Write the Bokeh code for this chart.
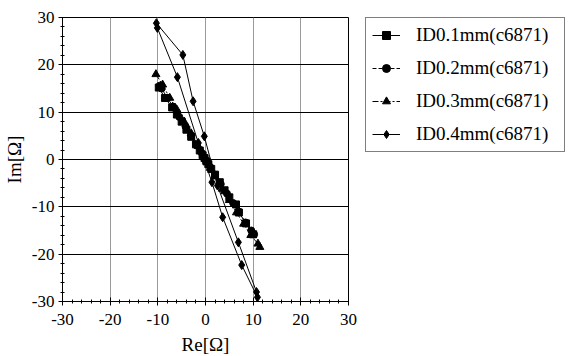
from bokeh.plotting import figure
from bokeh.models import Legend, LegendItem, Range1d, FixedTicker, PrintfTickFormatter
from bokeh.embed import file_html
from bokeh.resources import INLINE

NAN = float("nan")

# Data (Re[Ω], Im[Ω])
re_01 = [-9.8, -8.5, -7.0, -6.0, -5.0, -4.0, -3.0, -2.0, -1.2, -0.6, -0.2, 0.2, 0.6, 1.2, 2.0, 3.0, 4.0, 5.0, 6.4, 7.0, 8.5, 10.0]
im_01 = [15.2, 13.0, 11.0, 9.5, 8.0, 6.3, 4.8, 3.2, 1.9, 0.9, 0.3, -0.4, -1.0, -2.0, -3.2, -4.8, -6.5, -8.0, -9.5, -11.2, -13.5, -15.8]

re_02 = [-9.6, -9.2, -8.0, -6.8, -5.5, -4.2, -3.0, -1.8, -0.8, -0.2, 0.3, 1.0, 2.0, 3.2, 4.5, 5.8, 7.0, 8.4, 9.6, 10.2]
im_02 = [15.6, 15.0, 13.0, 11.2, 9.0, 7.0, 5.0, 3.0, 1.4, 0.4, -0.5, -1.6, -3.2, -5.2, -7.2, -9.2, -11.0, -13.3, -15.0, -15.8]

re_03 = [-10.4, -9.0, -7.5, -6.0, -4.5, -3.0, -1.5, -0.5, 0.2, 1.0, 2.0, 3.5, 5.0, 6.5, 8.0, 9.5, 11.0, 11.4]
im_03 = [18.0, 15.8, 13.0, 10.5, 8.0, 5.5, 2.8, 1.0, -0.3, -1.8, -3.6, -6.2, -8.6, -11.2, -13.6, -16.0, -17.8, -18.5]

re_04 = [-10.3, -4.75, -2.6, -0.25, 2.5, 6.9, 10.7, 10.9, 7.6, 3.6, 1.35, -1.5, -5.9, -10.1]
im_04 = [28.8, 22.1, 12.3, 4.9, -5.5, -17.5, -28.0, -29.1, -22.3, -12.2, -4.8, 3.5, 17.4, 27.8]

labels = ["ID0.1mm(c6871)", "ID0.2mm(c6871)", "ID0.3mm(c6871)", "ID0.4mm(c6871)"]
ticks = [-30, -20, -10, 0, 10, 20, 30]

FONT = "Liberation Serif"

p = figure(width=569, height=356, output_backend="svg", toolbar_location=None,
           x_range=Range1d(-30, 30), y_range=Range1d(-30, 30),
           frame_width=286, frame_height=284,
           min_border_left=61, min_border_top=17, min_border_bottom=55, min_border_right=2)
p.background_fill_color = "white"
p.border_fill_color = "white"
p.outline_line_color = "black"
p.outline_line_width = 1

for ax in (p.xaxis, p.yaxis):
    ax.ticker = FixedTicker(ticks=ticks, minor_ticks=list(range(-30, 31, 2)))
    ax.formatter = PrintfTickFormatter(format="%d")
    ax.major_label_text_font = FONT
    ax.major_label_text_font_size = "17px"
    ax.major_label_text_color = "black"
    ax.axis_label_text_font = FONT
    ax.axis_label_text_font_size = "19px"
    ax.axis_label_text_font_style = "normal"
    ax.axis_label_text_color = "black"
    ax.axis_line_color = "black"
    ax.major_tick_in = 4
    ax.major_tick_out = 4
    ax.minor_tick_in = 2
    ax.minor_tick_out = 2
    ax.major_tick_line_color = "black"
    ax.minor_tick_line_color = "black"

p.xaxis.axis_label = "Re[Ω]"
p.yaxis.axis_label = "Im[Ω]"
p.xaxis.major_label_standoff = 8
p.yaxis.major_label_standoff = 4
p.xaxis.axis_label_standoff = 6
p.yaxis.axis_label_standoff = 4

p.xgrid.grid_line_color = "#9a9a9a"
p.xgrid.grid_line_width = 1
p.ygrid.grid_line_color = "black"
p.ygrid.grid_line_width = 1

series = [
    (re_01, im_01, "square", 7, 7, "solid"),
    (re_02, im_02, "circle", 7, 7, "4 2"),
    (re_03, im_03, "triangle", 8, 7, "6 2 2 2"),
    (re_04, im_04, "diamond", 9, 8, "solid"),
]

items = []
for (xs, ys, marker, size, lsize, dash), lab in zip(series, labels):
    p.line(xs, ys, line_color="black", line_width=1, line_dash=dash)
    p.scatter(xs, ys, marker=marker, size=size, fill_color="black", line_color="black")
    # legend-only renderers (no visible data) with smaller markers
    ll = p.line([NAN], [NAN], line_color="black", line_width=1, line_dash=dash)
    ls = p.scatter([NAN], [NAN], marker=marker, size=lsize, fill_color="black", line_color="black")
    items.append(LegendItem(label=lab, renderers=[ll, ls]))

legend = Legend(items=items, location=(17, 149))
legend.label_text_font = FONT
legend.label_text_font_size = "19px"
legend.label_text_color = "black"
legend.border_line_color = "black"
legend.border_line_width = 1
legend.glyph_width = 28
legend.glyph_height = 20
legend.label_height = 20
legend.label_width = 142
legend.spacing = 11
legend.padding = 6
legend.margin = 17
legend.label_standoff = 16
p.add_layout(legend, "right")

open("out.html", "w").write(file_html(p, INLINE))
